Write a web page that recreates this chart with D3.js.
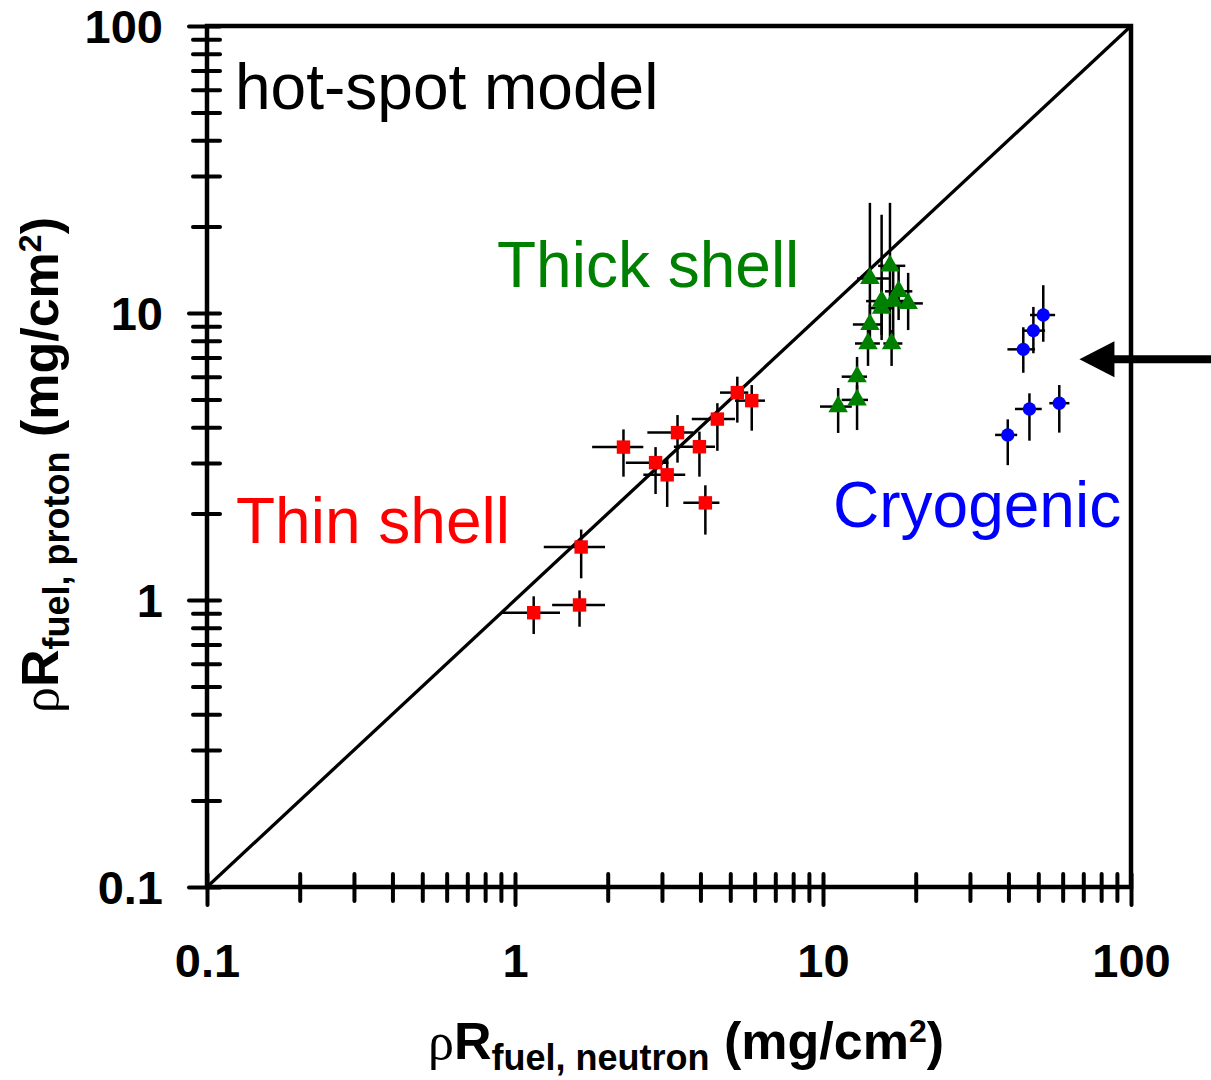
<!DOCTYPE html>
<html>
<head>
<meta charset="utf-8">
<script src="https://cdn.jsdelivr.net/npm/d3@7"></script>
<style>
  body { margin: 0; background: #fff; }
  text { font-family: "Liberation Sans", Arial, sans-serif; }
</style>
</head>
<body>
<div id="chart"></div>
<script>
// each row: [x, xLow, xHigh, y, yLow, yHigh]  (mg/cm2)
var thinShell = [
  [1.15, 0.905, 1.40, 0.903, 0.761, 1.03],
  [1.62, 1.32, 1.96, 0.961, 0.807, 1.08],
  [1.64, 1.24, 1.96, 1.53, 1.19, 1.76],
  [2.25, 1.78, 2.61, 3.41, 2.69, 3.93],
  [2.86, 2.29, 3.15, 3.01, 2.34, 3.41],
  [3.12, 2.61, 3.57, 2.73, 2.11, 3.12],
  [3.37, 2.69, 3.79, 3.83, 3.01, 4.41],
  [3.97, 3.28, 4.46, 3.42, 2.69, 3.86],
  [4.15, 3.52, 4.61, 2.18, 1.69, 2.51],
  [4.54, 3.75, 5.18, 4.27, 3.31, 4.85],
  [5.27, 4.63, 5.72, 5.28, 4.15, 6.00],
  [5.87, 5.18, 6.48, 4.95, 3.89, 5.61]
];

var thickShell = [
  [11.2, 9.78, 12.4, 4.72, 3.82, 5.48],
  [12.9, 11.5, 14.0, 4.98, 3.91, 5.61],
  [12.9, 11.5, 13.9, 6.00, 5.18, 7.03],
  [14.0, 12.7, 15.3, 7.83, 6.54, 8.94],
  [16.7, 15.7, 18.1, 7.83, 6.54, 8.72],
  [14.2, 12.5, 15.5, 9.12, 7.73, 10.7],
  [14.2, 12.9, 16.5, 13.2, 8.72, 24.2],
  [15.5, 13.8, 17.1, 11.0, 8.38, 22.0],
  [15.5, 14.2, 16.9, 10.4, 8.05, 13.0],
  [16.5, 15.1, 18.5, 14.6, 7.73, 24.2],
  [16.9, 14.8, 19.2, 11.0, 8.05, 14.7],
  [17.6, 15.9, 19.5, 11.9, 9.45, 14.7],
  [18.9, 16.9, 21.1, 10.8, 8.72, 13.8]
];

var cryogenic = [
  [51.9, 47.0, 56.7, 9.84, 7.94, 12.5],
  [48.2, 44.7, 52.6, 8.68, 7.24, 10.5],
  [44.7, 39.7, 48.8, 7.47, 6.19, 8.92],
  [46.8, 42.0, 51.3, 4.63, 3.59, 5.25],
  [58.5, 54.3, 63.1, 4.85, 3.83, 5.61],
  [39.8, 36.2, 42.7, 3.76, 2.95, 4.26]
];

var majorTicks = [0.1, 1, 10, 100];
var tickLabels = ["0.1", "1", "10", "100"];
var diagonal = [0.1, 100];
var arrowAt = { x: 68, y: 6.9 };

var svgWidth = 1211;
var svgHeight = 1080;
var plot = { left: 207, right: 1131, top: 26, bottom: 887 };

var svg = d3.select("#chart")
  .append("svg")
  .attr("width", svgWidth)
  .attr("height", svgHeight);

var x = d3.scaleLog().domain([0.1, 100]).range([plot.left, plot.right]);
var y = d3.scaleLog().domain([0.1, 100]).range([plot.bottom, plot.top]);

// minor + major tick values
var tickVals = [];
majorTicks.slice(0, 3).forEach(function(d) {
  for (var k = 1; k < 10; k++) tickVals.push(+(k * d).toPrecision(3));
});
tickVals.push(100);

function isMajor(d) { return majorTicks.indexOf(d) >= 0; }
function label(d) { return isMajor(d) ? tickLabels[majorTicks.indexOf(d)] : ""; }

// plot frame
svg.append("rect")
  .attr("x", plot.left)
  .attr("y", plot.top)
  .attr("width", plot.right - plot.left)
  .attr("height", plot.bottom - plot.top)
  .attr("fill", "none")
  .attr("stroke", "#000")
  .attr("stroke-width", 4.5);

// y axis
var yAxis = svg.append("g")
  .attr("transform", `translate(${plot.left},0)`)
  .call(d3.axisLeft(y).tickValues(tickVals).tickFormat(label));
yAxis.select(".domain").remove();
yAxis.selectAll(".tick line")
  .attr("x1", d => isMajor(d) ? -18 : -14)
  .attr("x2", 13)
  .attr("stroke", "#000")
  .attr("stroke-width", 4)
  .attr("stroke-linecap", "round");
yAxis.selectAll(".tick text")
  .attr("x", -44)
  .attr("dy", "0.36em")
  .attr("fill", "#000")
  .style("font-size", "47px")
  .style("font-weight", "bold");

// x axis
var xAxis = svg.append("g")
  .attr("transform", `translate(0,${plot.bottom})`)
  .call(d3.axisBottom(x).tickValues(tickVals).tickFormat(label));
xAxis.select(".domain").remove();
xAxis.selectAll(".tick line")
  .attr("y1", -13)
  .attr("y2", d => isMajor(d) ? 18 : 14)
  .attr("stroke", "#000")
  .attr("stroke-width", 4)
  .attr("stroke-linecap", "round");
xAxis.selectAll(".tick text")
  .attr("y", 57)
  .attr("dy", "0.71em")
  .attr("fill", "#000")
  .style("font-size", "47px")
  .style("font-weight", "bold");

// y = x line
svg.append("line")
  .attr("x1", x(diagonal[0]))
  .attr("y1", y(diagonal[0]))
  .attr("x2", x(diagonal[1]))
  .attr("y2", y(diagonal[1]))
  .attr("stroke", "#000")
  .attr("stroke-width", 3.3);

function drawSeries(data, color, symbolType, size) {
  var g = svg.append("g");
  var bars = g.append("g")
    .attr("stroke", "#000")
    .attr("stroke-width", 2.5);
  bars.selectAll(".xerr")
    .data(data)
    .enter()
    .append("line")
    .attr("x1", d => x(d[1]))
    .attr("x2", d => x(d[2]))
    .attr("y1", d => y(d[3]))
    .attr("y2", d => y(d[3]));
  bars.selectAll(".yerr")
    .data(data)
    .enter()
    .append("line")
    .attr("x1", d => x(d[0]))
    .attr("x2", d => x(d[0]))
    .attr("y1", d => y(d[4]))
    .attr("y2", d => y(d[5]));
  g.selectAll("path")
    .data(data)
    .enter()
    .append("path")
    .attr("d", d3.symbol().type(symbolType).size(size))
    .attr("transform", d => `translate(${x(d[0])},${y(d[3])})`)
    .attr("fill", color);
}

drawSeries(thinShell, "#ff0000", d3.symbolSquare, 180);
drawSeries(thickShell, "#008000", d3.symbolTriangle, 165);
drawSeries(cryogenic, "#0000ff", d3.symbolCircle, 140);

// arrow on the right
var ay = y(arrowAt.y), ax = x(arrowAt.x);
svg.append("line")
  .attr("x1", ax + 30)
  .attr("x2", svgWidth)
  .attr("y1", ay)
  .attr("y2", ay)
  .attr("stroke", "#000")
  .attr("stroke-width", 8);
svg.append("path")
  .attr("d", `M${ax},${ay} L${ax + 35},${ay - 18} L${ax + 35},${ay + 18} Z`)
  .attr("fill", "#000");

// labels
var labels = [
  { text: "hot-spot model", x: 235, y: 109, color: "#000" },
  { text: "Thick shell", x: 497, y: 287, color: "#008000" },
  { text: "Thin shell", x: 236, y: 543, color: "#ff0000" },
  { text: "Cryogenic", x: 833, y: 527, color: "#0000ff" }
];
svg.selectAll(".lbl")
  .data(labels)
  .enter()
  .append("text")
  .attr("x", d => d.x)
  .attr("y", d => d.y)
  .attr("fill", d => d.color)
  .style("font-size", "64px")
  .text(d => d.text);

// axis titles (dy in px so the shifts cancel out)
function axisTitle(sel, sub) {
  sel.style("font-size", "52px").style("font-weight", "bold").attr("fill", "#000");
  sel.append("tspan")
    .style("font-family", "'Liberation Serif', serif")
    .style("font-weight", "normal")
    .text("\u03C1");
  sel.append("tspan").text("R");
  sel.append("tspan")
    .attr("dy", 11)
    .style("font-size", "36px")
    .text(sub);
  sel.append("tspan")
    .attr("dy", -11)
    .text(" (mg/cm");
  sel.append("tspan")
    .attr("dy", -17)
    .style("font-size", "32px")
    .text("2");
  sel.append("tspan")
    .attr("dy", 17)
    .text(")");
}

svg.append("text")
  .attr("x", 686)
  .attr("y", 1059)
  .attr("text-anchor", "middle")
  .call(axisTitle, "fuel, neutron");

svg.append("text")
  .attr("transform", "translate(58,465) rotate(-90)")
  .attr("text-anchor", "middle")
  .call(axisTitle, "fuel, proton");
</script>
</body>
</html>
